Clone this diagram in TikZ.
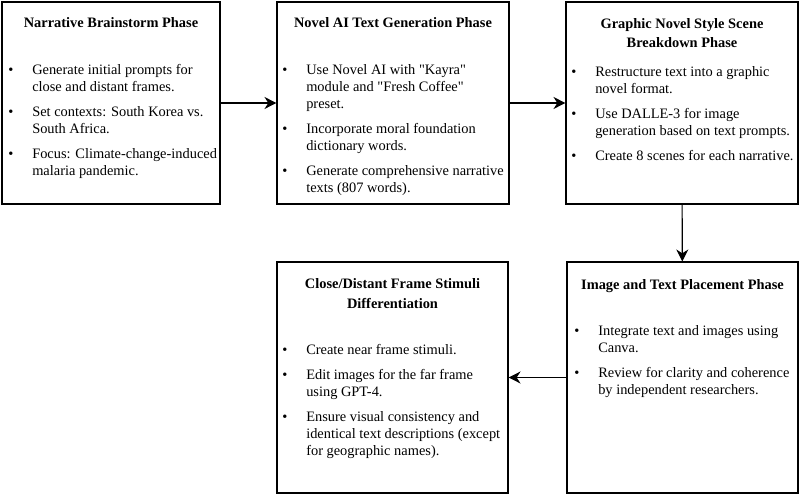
\documentclass[tikz,border=0pt]{standalone}
\usepackage{fontspec}
\newfontfamily\phasefont{Liberation Serif}
\usetikzlibrary{arrows.meta,positioning}

\newcommand{\phaselist}[1]{\begin{tabular}[t]{@{}p{18pt}@{}l@{}}#1\end{tabular}}

\begin{document}
\begin{tikzpicture}[x=0.75pt, y=-0.75pt,
    phase/.style={draw, line width=0.8pt, inner sep=0pt},
    phasetitle/.style={anchor=base, align=center, inner sep=0pt, font=\phasefont\fontsize{10.8}{14.6}\selectfont\bfseries},
    phasetext/.style={anchor=base west, inner sep=0pt, font=\phasefont\fontsize{10.8}{12.75}\selectfont},
    flow/.style={-{Stealth[length=9pt, width=9pt]}, line width=0.8pt}]
    \useasboundingbox (0,0) rectangle (800,499);

    % phase boxes
    \node[phase, minimum width=163.5pt, minimum height=151.5pt] (brainstorm) at (111,103) {};
    \node[phase, minimum width=174pt, minimum height=151.5pt] (generation) at (393,103) {};
    \node[phase, minimum width=174pt, minimum height=151.5pt] (breakdown) at (682,103) {};
    \node[phase, minimum width=173.25pt, minimum height=173.25pt] (placement) at (682.5,377.5) {};
    \node[phase, minimum width=173.25pt, minimum height=173.25pt] (stimuli) at (392.5,377.5) {};

    % titles (base = last line)
    \node[phasetitle] (brainstormtitle) at (111,28) {Narrative Brainstorm Phase};
    \node[phasetitle] (generationtitle) at (393,28) {Novel AI Text Generation Phase};
    \node[phasetitle] (breakdowntitle) at (682,48) {Graphic Novel Style Scene\\Breakdown Phase};
    \node[phasetitle] (placementtitle) at (682.5,289) {Image and Text Placement Phase};
    \node[phasetitle] (stimulititle) at (392.5,308) {Close/Distant Frame Stimuli\\Differentiation};

    % bullet lists
    \node[phasetext] (brainstormlist) at (8,75) {\phaselist{
        \textbullet & Generate initial prompts for\\
        & close and distant frames.\\[6pt]
        \textbullet & Set contexts: South Korea vs.\\
        & South Africa.\\[6pt]
        \textbullet & Focus: Climate-change-induced\\
        & malaria pandemic.}};
    \node[phasetext] (generationlist) at (282,75) {\phaselist{
        \textbullet & Use Novel AI with "Kayra"\\
        & module and "Fresh Coffee"\\
        & preset.\\[6pt]
        \textbullet & Incorporate moral foundation\\
        & dictionary words.\\[6pt]
        \textbullet & Generate comprehensive narrative\\
        & texts (807 words).}};
    \node[phasetext] (breakdownlist) at (571,77) {\phaselist{
        \textbullet & Restructure text into a graphic\\
        & novel format.\\[6pt]
        \textbullet & Use DALLE-3 for image\\
        & generation based on text prompts.\\[6pt]
        \textbullet & Create 8 scenes for each narrative.}};
    \node[phasetext] (placementlist) at (574,335) {\phaselist{
        \textbullet & Integrate text and images using\\
        & Canva.\\[6pt]
        \textbullet & Review for clarity and coherence\\
        & by independent researchers.}};
    \node[phasetext] (stimulilist) at (282,354) {\phaselist{
        \textbullet & Create near frame stimuli.\\[6pt]
        \textbullet & Edit images for the far frame\\
        & using GPT-4.\\[6pt]
        \textbullet & Ensure visual consistency and\\
        & identical text descriptions (except\\
        & for geographic names).}};

    % flow
    \draw[flow] (brainstorm) -- (generation);
    \draw[flow] (generation) -- (breakdown);
    \draw[flow] (breakdown) -- (placement);
    \draw[flow] (placement) -- (stimuli);
\end{tikzpicture}
\end{document}
